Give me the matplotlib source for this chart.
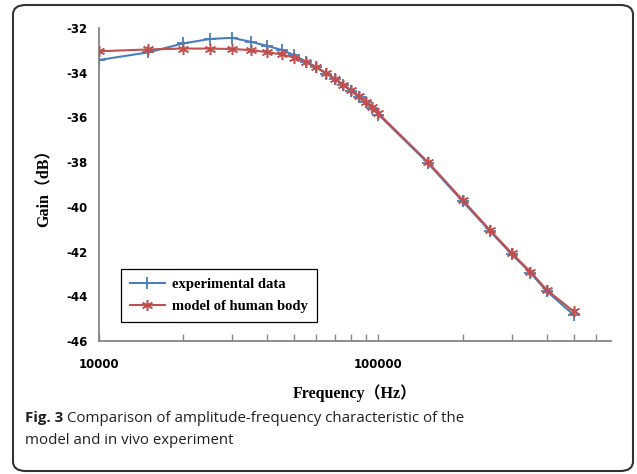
import numpy as np
from matplotlib import pyplot as plt
from matplotlib.patches import FancyBboxPatch
from matplotlib.transforms import offset_copy

#%% data
freq = [10000, 15000, 20000, 25000, 30000, 35000, 40000, 45000, 50000, 55000,
        60000, 65000, 70000, 75000, 80000, 85000, 90000, 95000, 100000,
        150000, 200000, 250000, 300000, 350000, 400000, 500000]
gain_exp = [-33.43, -33.09, -32.69, -32.49, -32.44, -32.62, -32.80, -32.98, -33.22, -33.50,
            -33.76, -34.04, -34.30, -34.57, -34.82, -35.08, -35.33, -35.59, -35.87,
            -38.03, -39.75, -41.07, -42.12, -42.95, -43.77, -44.83]
gain_model = [-33.04, -32.96, -32.92, -32.92, -32.94, -32.99, -33.08, -33.18, -33.32, -33.52,
              -33.75, -34.02, -34.27, -34.54, -34.79, -35.04, -35.29, -35.55, -35.82,
              -37.98, -39.69, -41.02, -42.07, -42.90, -43.71, -44.68]
yticks = [-46, -44, -42, -40, -38, -36, -34, -32]

blue = '#4a7ebb'
red = '#c0504d'
grey = '#868686'
serif = ['Liberation Serif', 'Noto Sans CJK SC']

#%% figure
fig = plt.figure(figsize=(6.37, 4.74), dpi=100)

#rounded frame around the whole figure
frame = FancyBboxPatch((13/637, 3/474), 620/637, 466/474,
                       boxstyle='round,pad=0,rounding_size=0.02',
                       transform=fig.transFigure, fill=False,
                       edgecolor='#333333', linewidth=1.5)
fig.patches.append(frame)

ax = fig.add_axes([99/637, 1 - 341/474, 512/637, 313/474])
ax.plot(freq, gain_exp, color=blue, lw=1.5, marker='+', ms=8, mew=1.3,
        label='experimental data', zorder=3)
ax.plot(freq, gain_model, color=red, lw=1.5, marker=(6, 2, 0), ms=8, mew=1.1,
        label='model of human body', zorder=4)

ax.set_xscale('log')
ax.set_xlim(10000, 680000)
ax.set_ylim(-46, -32)
ax.set_yticks(yticks)
ax.set_yticklabels([str(v) for v in yticks])
ax.set_xticks([10000, 100000])
ax.set_xticklabels(['10000', '100000'])
ax.set_xticks([20000, 30000, 40000, 50000, 60000, 70000, 80000, 90000,
               200000, 300000, 400000, 500000, 600000], minor=True)
ax.xaxis.set_minor_formatter(plt.NullFormatter())

for s in ['top', 'right']:
    ax.spines[s].set_visible(False)
for s in ['left', 'bottom']:
    ax.spines[s].set_color(grey)
    ax.spines[s].set_linewidth(1.3)

ax.tick_params(axis='y', length=0, pad=8, labelsize=8.5)
ax.tick_params(axis='x', which='both', direction='in', length=5, color=grey,
               width=1, pad=12, labelsize=8.5)
for lab in ax.get_xticklabels() + ax.get_yticklabels():
    lab.set_fontweight('bold')

ax.set_xlabel('Frequency（Hz）', family=serif, fontweight='bold', fontsize=11.5,
              labelpad=10)
ax.set_ylabel('Gain（dB）', family=serif, fontweight='bold', fontsize=11.5,
              labelpad=10)

leg = ax.legend(loc='lower left', bbox_to_anchor=(0.043, 0.061), borderaxespad=0,
                prop={'family': 'Liberation Serif', 'weight': 'bold', 'size': 10.5},
                fancybox=False, edgecolor='black', framealpha=1,
                handlelength=2.4, handletextpad=0.5, borderpad=0.6, labelspacing=0.6)
leg.get_frame().set_linewidth(0.9)

#caption: bold "Fig. 3" then the regular text right after it
cap_size = 10.8
cap_col = '#231f20'
t1 = fig.text(25/637, 1 - 418/474, 'Fig. 3', fontsize=cap_size, va='center',
              family='Open Sans', fontweight='bold', color=cap_col)
fig.canvas.draw()
w = t1.get_window_extent().width
fig.text(25/637, 1 - 418/474, 'Comparison of amplitude-frequency characteristic of the',
         fontsize=cap_size, va='center', family='Open Sans', color=cap_col,
         transform=offset_copy(fig.transFigure, fig=fig, x=w + 4, y=0, units='dots'))
fig.text(25/637, 1 - 441/474, 'model and in vivo experiment', fontsize=cap_size,
         va='center', family='Open Sans', color=cap_col)

fig.savefig('out.png', dpi=100)
